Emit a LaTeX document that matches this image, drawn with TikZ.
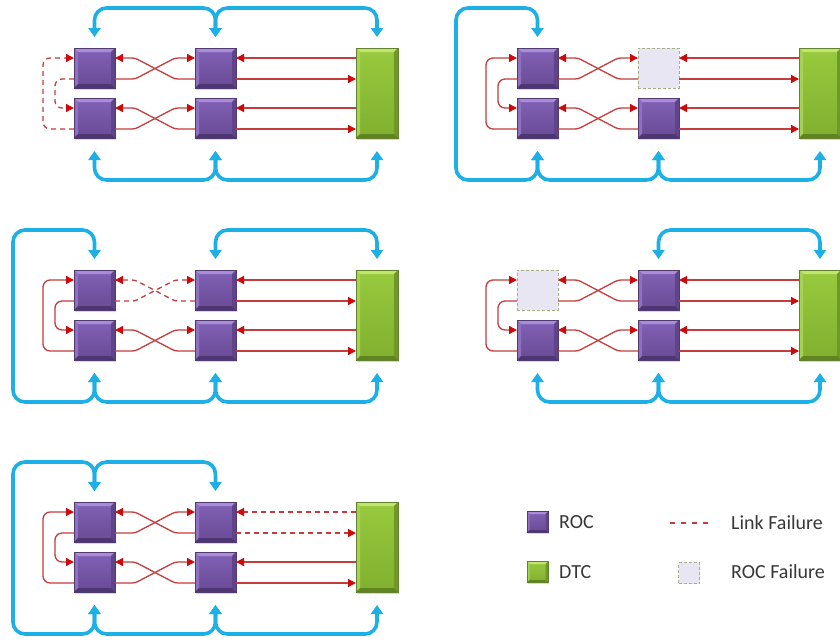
\documentclass[tikz,border=0pt]{standalone}
\usepackage{fontspec}
\setmainfont{Carlito}
\usetikzlibrary{arrows.meta,calc,shadows}
\definecolor{redl}{RGB}{196,60,60}
\definecolor{redA}{RGB}{205,10,10}
\definecolor{bluel}{RGB}{28,176,230}
\definecolor{rocT}{RGB}{130,98,180}
\definecolor{rocB}{RGB}{104,74,150}
\definecolor{rocD}{RGB}{80,58,110}
\definecolor{rocBt}{RGB}{170,140,220}
\definecolor{rocBl}{RGB}{142,112,192}
\definecolor{rocBr}{RGB}{96,68,138}
\definecolor{rocBb}{RGB}{78,54,114}
\definecolor{dtcT}{RGB}{152,202,62}
\definecolor{dtcB}{RGB}{128,176,46}
\definecolor{dtcD}{RGB}{100,130,45}
\definecolor{dtcBt}{RGB}{192,230,112}
\definecolor{dtcBl}{RGB}{165,210,82}
\definecolor{dtcBr}{RGB}{112,152,40}
\definecolor{dtcBb}{RGB}{96,132,34}
\definecolor{failF}{RGB}{232,230,242}
\definecolor{failD}{RGB}{165,175,135}
\definecolor{legtxt}{RGB}{55,55,55}
\tikzset{
  bevel/.style n args={5}{path picture={
    \fill[#1] (path picture bounding box.north west) -- (path picture bounding box.north east)
      -- ([xshift=-#5,yshift=-#5]path picture bounding box.north east)
      -- ([xshift=#5,yshift=-#5]path picture bounding box.north west) -- cycle;
    \fill[#2] (path picture bounding box.north west) -- ([xshift=#5,yshift=-#5]path picture bounding box.north west)
      -- ([xshift=#5,yshift=#5]path picture bounding box.south west) -- (path picture bounding box.south west) -- cycle;
    \fill[#3] (path picture bounding box.north east) -- ([xshift=-#5,yshift=-#5]path picture bounding box.north east)
      -- ([xshift=-#5,yshift=#5]path picture bounding box.south east) -- (path picture bounding box.south east) -- cycle;
    \fill[#4] (path picture bounding box.south west) -- (path picture bounding box.south east)
      -- ([xshift=-#5,yshift=#5]path picture bounding box.south east)
      -- ([xshift=#5,yshift=#5]path picture bounding box.south west) -- cycle;
  }},
  boxbase/.style={rectangle, inner sep=0pt, outer sep=0pt, minimum width=41pt, minimum height=40pt, line width=0.5pt},
  roc/.style={boxbase, top color=rocT, bottom color=rocB, draw=rocD,
    bevel={rocBt}{rocBl}{rocBr}{rocBb}{4pt},
    drop shadow={shadow xshift=1pt, shadow yshift=-1.5pt, opacity=0.3}},
  rocfail/.style={boxbase, fill=failF, draw=failD, dash pattern=on 3pt off 2pt},
  dtc/.style={boxbase, minimum width=42pt, minimum height=90pt, top color=dtcT, bottom color=dtcB, draw=dtcD,
    bevel={dtcBt}{dtcBl}{dtcBr}{dtcBb}{4pt},
    drop shadow={shadow xshift=1pt, shadow yshift=-1.5pt, opacity=0.3}},
  RT/.tip={Triangle[width=8pt,length=8pt,color=redA]},
  BT/.tip={Triangle[width=12pt,length=9pt]},
  rl/.style={draw=redl, line width=1.3pt, rounded corners=3pt},
  dsh/.style={dash pattern=on 5pt off 4pt},
  bl/.style={draw=bluel, line width=3.6pt, rounded corners=12pt},
  legtxt/.style={text=legtxt, inner sep=0pt, anchor=west, font=\fontsize{20}{23}\selectfont},
}
\newcommand\mkpanel[4]{%
  \begin{scope}[shift={#2}]
    \node[#3] (#1lt) at (94.5,68) {};
    \node[roc] (#1lb) at (94.5,118) {};
    \node[#4] (#1mt) at (215.5,68) {};
    \node[roc] (#1mb) at (215.5,118) {};
    \node[dtc] (#1d) at (377,93) {};
  \end{scope}
  \coordinate (#1tI) at ($(#1mt.north)+(0,10)$);
  \coordinate (#1tO) at ($(#1mt.north)+(0,31)$);
  \coordinate (#1bI) at ($(#1mb.north)+(0,10)$);
  \coordinate (#1bO) at ($(#1mb.north)+(0,31)$);
  \coordinate (#1yt) at ($(#1lt.north)+(0,-40)$);
  \coordinate (#1yb) at ($(#1lb.south)+(0,42)$);
  \coordinate (#1xl) at ($(#1lt.west)+(-61,0)$);
  \coordinate (#1Lt) at ($(#1lt.north)+(0,-11)$);
  \coordinate (#1Mt) at ($(#1mt.north)+(0,-11)$);
  \coordinate (#1Dt) at ($(#1d.north)+(0,-11)$);
  \coordinate (#1Lb) at ($(#1lb.south)+(0,13)$);
  \coordinate (#1Mb) at ($(#1mb.south)+(0,13)$);
  \coordinate (#1Db) at ($(#1d.south)+(0,13)$);
}
% #1 prefix, #2 loop style, #3 top cross style, #4 top dtc-link style
\newcommand\redlinks[4]{%
  \draw[rl,#4,-RT] (#1d.west |- #1tI) -- (#1mt.east |- #1tI);
  \draw[rl,#4,-RT] (#1mt.east |- #1tO) -- (#1d.west |- #1tO);
  \draw[rl,-RT] (#1d.west |- #1bI) -- (#1mb.east |- #1bI);
  \draw[rl,-RT] (#1mb.east |- #1bO) -- (#1d.west |- #1bO);
  \draw[rl,#3,-RT] (#1mt.west |- #1tO) -- ++(-20,0) -- ++(-40,-21) -- (#1lt.east |- #1tI);
  \draw[rl,#3,-RT] (#1lt.east |- #1tO) -- ++(20,0) -- ++(40,-21) -- (#1mt.west |- #1tI);
  \draw[rl,-RT] (#1mb.west |- #1bO) -- ++(-20,0) -- ++(-40,-21) -- (#1lb.east |- #1bI);
  \draw[rl,-RT] (#1lb.east |- #1bO) -- ++(20,0) -- ++(40,-21) -- (#1mb.west |- #1bI);
  \draw[rl,#2,-RT,rounded corners=7pt] (#1lt.west |- #1tO) -- ++(-19,0) |- (#1lb.west |- #1bI);
  \draw[rl,#2,-RT,rounded corners=7pt] (#1lb.west |- #1bO) -- ++(-31,0) |- (#1lt.west |- #1tI);
}
\newcommand\blLMtop[1]{\draw[bl,BT-BT] (#1Lt) -- (#1Lt |- #1yt) -- (#1Mt |- #1yt) -- (#1Mt);}
\newcommand\blMDtop[1]{\draw[bl,BT-BT] (#1Mt) -- (#1Mt |- #1yt) -- (#1Dt |- #1yt) -- (#1Dt);}
\newcommand\blLMbot[1]{\draw[bl,BT-BT] (#1Lb) -- (#1Lb |- #1yb) -- (#1Mb |- #1yb) -- (#1Mb);}
\newcommand\blMDbot[1]{\draw[bl,BT-BT] (#1Mb) -- (#1Mb |- #1yb) -- (#1Db |- #1yb) -- (#1Db);}
\newcommand\blLoop[1]{\draw[bl,BT-BT] (#1Lt) -- (#1Lt |- #1yt) -- (#1xl |- #1yt) -- (#1xl |- #1yb) -- (#1Lb |- #1yb) -- (#1Lb);}

\begin{document}
\begin{tikzpicture}[x=1pt,y=-1pt]
\useasboundingbox (0,0) rectangle (840,641);
\clip (0,0) rectangle (840,641);
\fill[white] (0,0) rectangle (840,641);

% Panel 1
\mkpanel{a}{(0,0)}{roc}{roc}
\redlinks{a}{dsh}{}{}
\blLMtop{a}\blMDtop{a}\blLMbot{a}\blMDbot{a}

% Panel 2
\mkpanel{b}{(443,0)}{roc}{rocfail}
\redlinks{b}{}{}{}
\blLoop{b}\blLMbot{b}\blMDbot{b}

% Panel 3
\mkpanel{c}{(0,222)}{roc}{roc}
\redlinks{c}{}{dsh}{}
\blLoop{c}\blMDtop{c}\blLMbot{c}\blMDbot{c}

% Panel 4
\mkpanel{e}{(443,222)}{rocfail}{roc}
\redlinks{e}{}{}{}
\blMDtop{e}\blLMbot{e}\blMDbot{e}

% Panel 5
\mkpanel{f}{(0,454)}{roc}{roc}
\redlinks{f}{}{}{dsh}
\blLoop{f}\blLMtop{f}\blLMbot{f}\blMDbot{f}

% Legend
\node[roc, minimum width=21pt, minimum height=21pt, bevel={rocBt}{rocBl}{rocBr}{rocBb}{2.5pt}] (kroc) at (537.5,522) {};
\node[legtxt] (troc) at (559,522) {ROC};
\node[dtc, minimum width=21pt, minimum height=21pt, bevel={dtcBt}{dtcBl}{dtcBr}{dtcBb}{2.5pt}] (kdtc) at (537.5,572) {};
\node[legtxt] (tdtc) at (559,572) {DTC};
\coordinate (klf1) at (670,523);
\coordinate (klf2) at (710,523);
\draw[redl, line width=1.3pt, dash pattern=on 5pt off 6pt] (klf1) -- (klf2);
\node[legtxt] (tlf) at (731,523) {Link Failure};
\node[rocfail, minimum width=21pt, minimum height=21pt] (kfail) at (689,573) {};
\node[legtxt] (tfail) at (731,572) {ROC Failure};
\end{tikzpicture}
\end{document}
